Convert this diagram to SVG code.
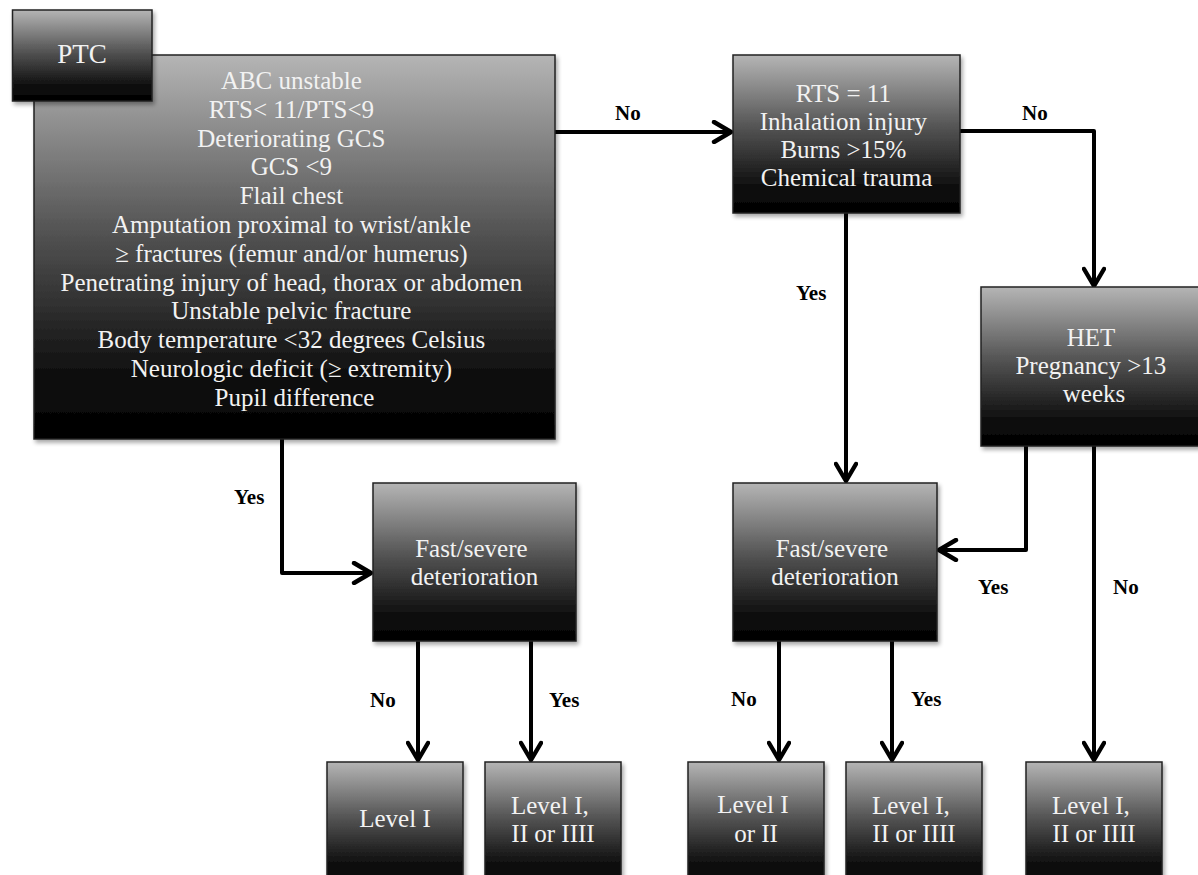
<svg xmlns="http://www.w3.org/2000/svg" width="1198" height="875" viewBox="0 0 1198 875">
<defs>
<linearGradient id="g" x1="0" y1="0" x2="0" y2="1">
<stop offset="0" stop-color="#b5b5b5"/>
<stop offset="0.45" stop-color="#555"/>
<stop offset="0.82" stop-color="#111"/>
<stop offset="1" stop-color="#000"/>
</linearGradient>
<filter id="sh" x="-5%" y="-5%" width="115%" height="115%">
<feGaussianBlur in="SourceAlpha" stdDeviation="2"/>
<feOffset dx="2" dy="3"/>
<feComponentTransfer><feFuncA type="linear" slope="0.35"/></feComponentTransfer>
<feMerge><feMergeNode/><feMergeNode in="SourceGraphic"/></feMerge>
</filter>
<marker id="arr" viewBox="0 0 12 12" refX="10.5" refY="6" markerWidth="6" markerHeight="6" markerUnits="strokeWidth" orient="auto">
<path d="M2,1 L10.5,6 L2,11" fill="none" stroke="#000" stroke-width="2.2" stroke-linecap="round" stroke-linejoin="round"/>
</marker>
<style>
.box{fill:url(#g);stroke:#222;stroke-width:1.5;filter:url(#sh)}
.t{font-family:"Liberation Serif","Times New Roman",serif;font-size:25px;fill:#f2f2f2;text-anchor:middle}
.lbl{font-family:"Liberation Serif","Times New Roman",serif;font-size:21px;font-weight:bold;fill:#000}
.c{fill:none;stroke:#000;stroke-width:4;stroke-linejoin:round}
</style>
</defs>
<rect width="1198" height="875" fill="#fff"/>

<g id="connectors">
<path class="c" d="M553,132 H731" marker-end="url(#arr)"/>
<path class="c" d="M960,131 H1094 V286" marker-end="url(#arr)"/>
<path class="c" d="M846,213 V481" marker-end="url(#arr)"/>
<path class="c" d="M1026,446 V550 H939" marker-end="url(#arr)"/>
<path class="c" d="M1094,446 V760" marker-end="url(#arr)"/>
<path class="c" d="M282,439 V573 H371" marker-end="url(#arr)"/>
<path class="c" d="M418,641 V760" marker-end="url(#arr)"/>
<path class="c" d="M531,641 V760" marker-end="url(#arr)"/>
<path class="c" d="M779,641 V760" marker-end="url(#arr)"/>
<path class="c" d="M892,641 V760" marker-end="url(#arr)"/>
<text class="lbl" x="615" y="120">No</text>
<text class="lbl" x="1022" y="120">No</text>
<text class="lbl" x="796" y="300">Yes</text>
<text class="lbl" x="234" y="504">Yes</text>
<text class="lbl" x="978" y="594">Yes</text>
<text class="lbl" x="1113" y="594">No</text>
<text class="lbl" x="370" y="707">No</text>
<text class="lbl" x="549" y="707">Yes</text>
<text class="lbl" x="731" y="706">No</text>
<text class="lbl" x="911" y="706">Yes</text>
</g>

<g id="main">
<rect class="box" x="34" y="55" width="521" height="384"/>
<text class="t">
<tspan x="294.5" y="89">ABC unstable</tspan>
<tspan x="294.5" y="117.8">RTS&lt; 11/PTS&lt;9</tspan>
<tspan x="294.5" y="146.6">Deteriorating GCS</tspan>
<tspan x="294.5" y="175.4">GCS &lt;9</tspan>
<tspan x="294.5" y="204.2">Flail chest</tspan>
<tspan x="294.5" y="233">Amputation proximal to wrist/ankle</tspan>
<tspan x="294.5" y="261.8">≥ fractures (femur and/or humerus)</tspan>
<tspan x="294.5" y="290.6">Penetrating injury of head, thorax or abdomen</tspan>
<tspan x="294.5" y="319.4">Unstable pelvic fracture</tspan>
<tspan x="294.5" y="348.2">Body temperature &lt;32 degrees Celsius</tspan>
<tspan x="294.5" y="377">Neurologic deficit (≥ extremity)</tspan>
<tspan x="294.5" y="405.8">Pupil difference</tspan>
</text>
</g>

<g id="ptc">
<rect class="box" x="12.5" y="10" width="139.5" height="91"/>
<text class="t" x="82" y="63" style="font-size:27px">PTC</text>
</g>

<g id="rts">
<rect class="box" x="733" y="55" width="227" height="158"/>
<text class="t">
<tspan x="846.5" y="102">RTS = 11</tspan>
<tspan x="846.5" y="130">Inhalation injury</tspan>
<tspan x="846.5" y="158">Burns &gt;15%</tspan>
<tspan x="846.5" y="186">Chemical trauma</tspan>
</text>
</g>

<g id="het">
<rect class="box" x="981" y="287" width="226" height="159"/>
<text class="t">
<tspan x="1094" y="346">HET</tspan>
<tspan x="1094" y="374">Pregnancy &gt;13</tspan>
<tspan x="1094" y="402">weeks</tspan>
</text>
</g>

<g id="fast1">
<rect class="box" x="373" y="483" width="203" height="158"/>
<text class="t">
<tspan x="474.5" y="557">Fast/severe</tspan>
<tspan x="474.5" y="585">deterioration</tspan>
</text>
</g>

<g id="fast2">
<rect class="box" x="733" y="483" width="204" height="158"/>
<text class="t">
<tspan x="835" y="557">Fast/severe</tspan>
<tspan x="835" y="585">deterioration</tspan>
</text>
</g>

<g id="level1">
<rect class="box" x="327" y="762" width="136" height="122"/>
<text class="t" x="395" y="827">Level I</text>
</g>

<g id="level2">
<rect class="box" x="485" y="762" width="136" height="122"/>
<text class="t">
<tspan x="553" y="814">Level I,</tspan>
<tspan x="553" y="842">II or IIII</tspan>
</text>
</g>

<g id="level3">
<rect class="box" x="688" y="762" width="136" height="122"/>
<text class="t">
<tspan x="756" y="813">Level I</tspan>
<tspan x="756" y="842">or II</tspan>
</text>
</g>

<g id="level4">
<rect class="box" x="846" y="762" width="136" height="122"/>
<text class="t">
<tspan x="914" y="814">Level I,</tspan>
<tspan x="914" y="842">II or IIII</tspan>
</text>
</g>

<g id="level5">
<rect class="box" x="1026" y="762" width="136" height="122"/>
<text class="t">
<tspan x="1094" y="814">Level I,</tspan>
<tspan x="1094" y="842">II or IIII</tspan>
</text>
</g>
</svg>
